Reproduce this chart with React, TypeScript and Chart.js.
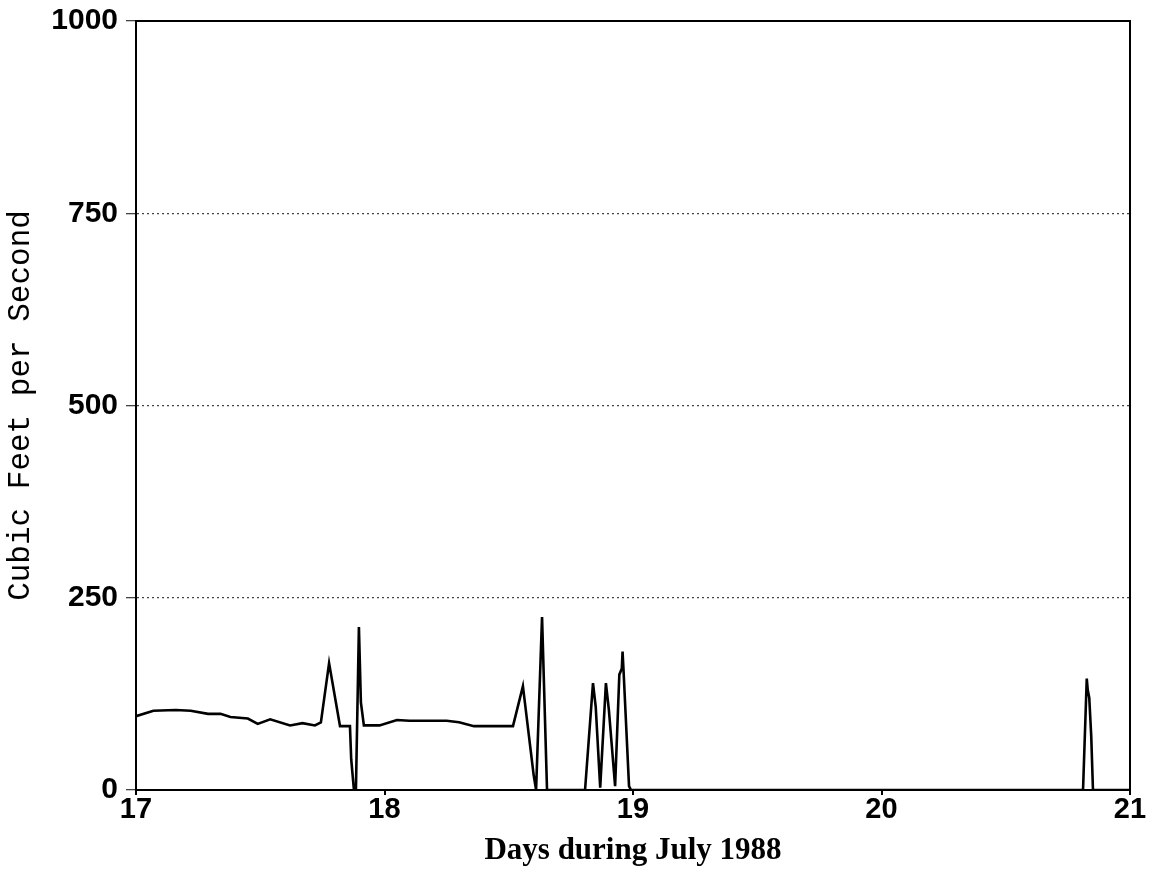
import React, { useEffect, useRef } from "react";
import { Chart, registerables } from "chart.js";

Chart.register(...registerables);

const days: number[] = [
  17.0, 17.07, 17.16, 17.22, 17.29, 17.34, 17.38, 17.45, 17.49, 17.54, 17.62, 17.67, 17.72,
  17.744, 17.777, 17.821, 17.861, 17.866, 17.877, 17.885, 17.897, 17.905, 17.917, 17.98,
  18.05, 18.1, 18.25, 18.3, 18.36, 18.517, 18.557, 18.6, 18.61, 18.634, 18.654,
  18.807, 18.839, 18.85, 18.868, 18.891, 18.903, 18.928, 18.945, 18.955, 18.958, 18.962,
  18.984, 18.992, 20.811, 20.826, 20.83, 20.836, 20.844, 20.851, 21.0,
];

const flow: number[] = [
  96, 103, 104, 103, 99, 99, 95, 93, 86, 92, 84, 87, 84,
  88, 165, 83, 83, 40, 0, 0, 212, 114, 84, 84,
  91, 90, 90, 88, 83, 83, 135, 20, 0, 225, 0,
  0, 139, 108, 3, 139, 104, 5, 150, 158, 180, 155,
  5, 0, 0, 145, 130, 120, 70, 0, 0,
];

const xTicks: number[] = [17, 18, 19, 20, 21];
const yTicks: number[] = [0, 250, 500, 750, 1000];
const xTitle = "Days during July 1988";
const yTitle = "Cubic Feet per Second";

const framePlugin = {
  id: "frame",
  afterDraw(chart: any) {
    const { ctx, chartArea } = chart;
    ctx.save();
    ctx.strokeStyle = "#000";
    ctx.lineWidth = 2;
    ctx.strokeRect(chartArea.left, chartArea.top, chartArea.right - chartArea.left, chartArea.bottom - chartArea.top);
    ctx.restore();
  },
};

export default function App() {
  const ref = useRef<HTMLCanvasElement | null>(null);

  useEffect(() => {
    if (!ref.current) return;
    const chart = new Chart(ref.current, {
      type: "line",
      data: {
        datasets: [
          {
            data: days.map((d, i) => ({ x: d, y: flow[i] })),
            borderColor: "#000",
            borderWidth: 2.6,
            pointRadius: 0,
            tension: 0,
            fill: false,
          },
        ],
      },
      options: {
        animation: false,
        responsive: false,
        maintainAspectRatio: false,
        layout: { padding: { top: 21, right: 23, left: 0, bottom: 0 } },
        plugins: { legend: { display: false }, tooltip: { enabled: false } },
        scales: {
          x: {
            type: "linear",
            min: 17,
            max: 21,
            afterFit: (s: any) => {
              s.height = 90;
              s.paddingLeft = 0;
              s.paddingRight = 0;
            },
            afterBuildTicks: (s: any) => {
              s.ticks = xTicks.map((v) => ({ value: v }));
            },
            ticks: {
              color: "#000",
              padding: 0,
              maxRotation: 0,
              font: { family: "'Liberation Sans', Arial, sans-serif", size: 29, weight: "bold", lineHeight: 1 },
              callback: (v: any) => String(v),
            },
            grid: { drawOnChartArea: false, tickLength: 5, color: "#000", lineWidth: 2 },
            border: { display: true, color: "#000", width: 2 },
            title: {
              display: true,
              text: xTitle,
              color: "#000",
              padding: { top: 0, bottom: 10 },
              font: { family: "'Liberation Serif', serif", size: 31, weight: "bold" },
            },
          },
          y: {
            type: "linear",
            min: 0,
            max: 1000,
            afterFit: (s: any) => {
              s.width = 136;
              s.paddingTop = 0;
              s.paddingBottom = 0;
            },
            afterBuildTicks: (s: any) => {
              s.ticks = yTicks.map((v) => ({ value: v }));
            },
            ticks: {
              color: "#000",
              padding: 8,
              font: { family: "'Liberation Sans', Arial, sans-serif", size: 30, weight: "bold" },
              callback: (v: any) => String(v),
            },
            grid: {
              drawOnChartArea: true,
              tickLength: 10,
              color: "#444",
              lineWidth: 1.3,
            },
            border: { display: true, color: "#000", width: 2, dash: [2, 3] },
            title: {
              display: true,
              text: yTitle,
              color: "#000",
              padding: { top: 2, bottom: 0 },
              font: { family: "'Liberation Mono', 'Courier New', monospace", size: 31, weight: "normal" },
            },
          },
        },
      },
      plugins: [framePlugin],
    } as any);
    return () => chart.destroy();
  }, []);

  return (
    <div style={{ position: "absolute", left: 0, top: 0, width: 1153, height: 880, background: "#fff" }}>
      <canvas ref={ref} width={1153} height={880} style={{ width: 1153, height: 880 }} />
    </div>
  );
}
